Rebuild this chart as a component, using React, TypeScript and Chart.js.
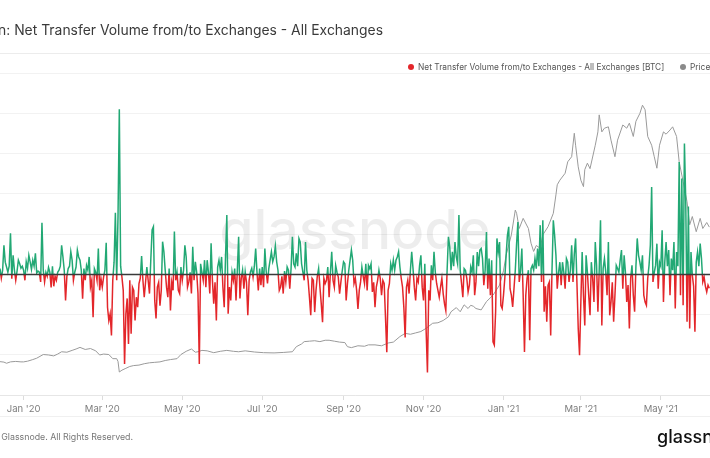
import React, { useEffect, useRef } from "react";
import { Chart, registerables } from "chart.js";

Chart.register(...registerables);

// Days are counted from 2020-01-01 (day 0). First daily value is 2019-12-14.
const FIRST_DAY = -18;
const LAST_DAY_SHOWN = 523.5;

// Net transfer volume from/to exchanges, daily, in thousands of BTC
const netFlowKbtc = [
  1.4, -1, 1, 7.2, 3, 1.8, 0.5, 2, 10.2, -1.1,
  4.7, 1, -1.5, 0.8, 3.5, 2.6, 1.5, 2, 1, -1.5,
  3.1, 1.5, 4.7, 3.1, 1.2, 3.5, 2, 5.2, 0.3, 0.8,
  0.5, -1.9, 12.8, 1, -1.9, 0.5, -0.5, 1.7, 0.5, -3.3,
  2, -3, -0.5, -1.5, 0.5, 1, 2, 7.2, 4.3, 1,
  -6.5, -0.5, 1.4, 2, 5.6, 3.5, -1.5, 0.5, 1.8, 6,
  4.3, 3.5, 1, -6.1, 1.4, -1.5, 2.2, 1, 4.3, -3.2,
  -1.5, -10.7, 1.4, 0.5, -1.5, 6.4, -4, -1, -3.2, -0.7,
  1, 7.8, -8.2, -11.5, -9.8, -15.2, -1.5, 3, 15.3, -1.5,
  14.3, 41, 2, -0.7, -4, -22.3, -9.8, -6, -17.3, -1.5,
  -14.8, -3.2, -4, -11.5, -5.7, -8.2, -2.3, -1, 4.5, -1.5,
  -5.7, -2, 1.8, -1.5, -4.8, 3.5, 11, 11.8, -6.5, -11,
  -3.2, -2, -7.8, -4, 8.1, 5.6, 1, -3.2, -5.7, 1.4,
  -9, -2, -4, 10.6, -1.5, 0.5, -4, -4.8, 1.8, -1.5,
  1, 7.2, 4.3, -3.2, -1.9, 0.5, -4.8, 6.8, -1.5, 3.1,
  0.5, -4.8, -22.3, 2.6, 0.5, -1.5, 3.5, -3.2, 3.5, 0.5,
  -4.8, 7.7, -1.5, -7.3, -2, -11.5, 1.8, 3.5, 1, 4.3,
  -3.2, -8.2, 4.3, 14.7, -9.8, -3.2, -6.5, 0.5, -1.5, 1.4,
  -6.5, 1, 9.3, -6, -1, 1, -3.6, 0.6, -2, -10.2,
  -1.5, 0.6, 1.5, -0.7, 2, 6.4, 0.5, -4, 1.4, -2.7,
  1.8, -3.2, 6.4, 0.8, -2.3, 1.4, 3.5, 5.6, 3.1, 4.3,
  7, 3.1, 1, -4, -3.2, -0.5, -4.8, 0.8, -1.9, 1.8,
  1, -3.6, 1.5, 9.3, 2.6, 1.8, 5.2, 2, 8.9, 8,
  2.6, 0.5, -1.5, 8, 1, -1.5, -5.7, -10.2, -1, -1.5,
  -9.4, -4, -0.5, 1.4, -3.2, -7.3, -11.9, -1, -2.3, -1.5,
  1.8, -5.7, 0.5, 5.6, -1.5, -3.2, 2.2, 0.5, -0.7, -4.8,
  -1.9, 0.8, 3.1, 2.6, -6.5, -2.3, 1, 3.5, 6, 3.5,
  -2.3, -1, -4, -8.6, -4, -1.9, 1.8, -0.5, -2.3, 2.6,
  -4, 2.2, 1.4, 2.6, -4.4, -2, -8.2, -3.2, -1.5, 1,
  -1, -5.2, -1.5, -2.3, -10.7, -19.4, -4, -2.3, 2.6, 1,
  3.5, 1, 3.5, 4.3, 5.6, 1.8, -1, -3.2, -8.2, -15.7,
  -3.2, -1.5, -4.8, 1, 5.6, 1.4, -3.2, -6.5, -1, -1.9,
  2.2, 4.7, -3.2, -6.5, 2.6, -14, -24.4, -4, -6.5, 2.2,
  -1.5, 5.6, 0.5, -2.3, -4, -5.7, -3.2, -1, -4.8, -7.3,
  -9, 1, 9.3, 6.8, 1, 5.6, 2, 8, 4.3, 2.6,
  14.7, 1, -2.3, -5.7, 1.4, 1, -1, -4.4, -2.7, 1.8,
  0.5, 4.7, -5.2, -1.9, 5.5, 2, 6, 6.4, 3.9, -2.7,
  1, 10.5, -3.6, 3.9, -5.2, 3.5, -16.8, -17.6, -9.3, 8.9,
  5.5, 8, -7.7, -8.5, -5.2, -1, 4.7, 9.7, 11.8, -3.6,
  -5.2, -8.1, -3.6, 1, 7.6, 13, -1.9, 1, 6.4, -5.2,
  -19.3, -5.2, -1, 1, -16.4, 1.4, 2.2, 1, 3.9, 1.4,
  6.4, 2, 12.2, -1.9, 13.4, -9.3, -3, -11.8, -2.7, -1.9,
  -15.2, 1, 13.4, 9.7, 4.7, -3.6, 0.5, 3, -2.7, 3,
  0.5, -3.6, 3.9, 3, -1.9, 1, 7.2, -1.9, 5, 8.9,
  -2, -13.5, -20.1, -6.9, 5.5, -5.2, -12.7, 4.7, 0.5, -5.2,
  -10.2, 3, -1, -6.9, 8, 2.2, -9.3, 1, 13.4, -12.7,
  1.4, 3.9, 0.5, -5.2, 8, -10.2, -6.9, -2, -11.8, -5.2,
  2.2, 1.4, 0.5, 3.5, 6, -3.6, 4.7, 0.5, -6.9, -2.7,
  -13.5, -1, 2.2, -5.2, -9.3, 2, 8.9, 4.7, 3, 1,
  4.7, -5.2, -6.9, -7.7, -1, 2.2, 7.2, 21.7, -1.9, 0.5,
  2.2, 7.6, -3.6, 3, 2, 10.9, -6.9, 3, 8, 2,
  6, -5.2, 3.9, 1, 8, -8.5, 5.5, 2, 27.9, -5.2,
  23.8, -7.7, 32.5, 18.1, -11.8, 16.8, -13.5, 5.5, -0.2, -3,
  -14.3, 3, 5.5, 2, 7.6, 3.9, -1.9, -0.7, -3, -4.4,
  -2.7, -3.5,
];

// BTC price (USD), sampled days
const priceDays = [
  -18, -15, -13, -10, -6, -2, 0, 3, 7, 10, 15, 19, 23, 26, 29, 33, 37, 40, 43, 47,
  51, 55, 58, 61, 65, 68, 71, 72, 73, 75, 78, 81, 84, 88, 92, 96, 100, 104, 108, 112,
  117, 120, 124, 128, 131, 133, 136, 140, 145, 150, 155, 160, 164, 169, 176, 183, 191, 198, 205, 208,
  212, 214, 218, 222, 226, 230, 233, 237, 241, 245, 247, 250, 255, 260, 263, 268, 273, 278, 282, 287,
  291, 295, 299, 303, 307, 312, 316, 320, 324, 326, 330, 333, 336, 339, 341, 343, 345, 349, 353, 358,
  363, 366, 368, 372, 375, 376, 378, 381, 385, 387, 389, 391, 394, 396, 400, 404, 406, 407, 409, 413,
  415, 418, 420, 421, 423, 425, 427, 428, 430, 432, 436, 438, 439, 441, 443, 446, 448, 451, 453, 457,
  460, 462, 465, 467, 470, 472, 474, 476, 479, 481, 483, 485, 488, 490, 493, 495, 498, 500, 503, 506,
  508, 510, 513, 516, 518, 521, 523,
];
const priceUsd = [
  7250, 7150, 6900, 7200, 7300, 7200, 7200, 7350, 7700, 8000, 8800, 8700, 8500, 8900, 9400, 9300, 9700, 10000, 10350, 9900,
  10100, 9600, 8700, 8900, 8800, 7900, 7900, 7300, 5000, 5400, 5800, 6200, 6400, 6500, 6800, 7000, 7100, 7200, 7500, 7700,
  7900, 8800, 9500, 10000, 9300, 9400, 9700, 9600, 9200, 9500, 9700, 9500, 9400, 9600, 9350, 9200, 9150, 9250, 9400, 10500,
  11100, 11600, 11700, 11800, 11600, 11900, 11900, 11700, 11500, 11400, 10500, 10300, 10700, 10600, 10900, 10900, 10700, 11300, 11500, 12700,
  13400, 13200, 13500, 13800, 14500, 15600, 15700, 16200, 17000, 18100, 19000, 18100, 19600, 18800, 19500, 19300, 18800, 18500, 20300, 21700,
  23900, 27000, 30400, 34800, 40200, 39500, 36200, 38400, 36200, 33000, 31200, 32500, 31900, 34800, 36600, 39500, 43500, 45700, 46700, 48200,
  50700, 51800, 56900, 54300, 49600, 46700, 45300, 49000, 50400, 49200, 54300, 57200, 60900, 57200, 58000, 58300, 55400, 51800, 55400, 58700,
  58000, 59100, 56200, 59500, 61200, 63000, 62000, 56200, 54300, 51800, 49300, 54300, 57200, 56700, 57600, 58300, 56200, 50700, 46400, 42000,
  37000, 38800, 35500, 38400, 36200, 37500, 36500,
];

// x-axis ticks (first of each month shown)
const tickDays = [0, 60, 121, 182, 244, 305, 366, 425, 486];
const tickLabels = ["Jan '20", "Mar '20", "May '20", "Jul '20", "Sep '20", "Nov '20", "Jan '21", "Mar '21", "May '21"];

const FLOW_MIN = -30;
const FLOW_MAX = 50;
const FLOW_STEP = 10;
const PRICE_MIN = 0;
const PRICE_MAX = 70000;

const GREEN = "#22a874";
const RED = "#e3262a";
const FONT = "Inter, 'Noto Sans', sans-serif";

export default function App() {
  const canvasRef = useRef<HTMLCanvasElement | null>(null);

  useEffect(() => {
    const canvas = canvasRef.current;
    if (!canvas) return;

    const flowPoints = netFlowKbtc.map((v, i) => ({ x: FIRST_DAY + i, y: v }));
    const pricePoints = priceDays.map((d, i) => ({ x: d, y: priceUsd[i] }));

    const watermark = {
      id: "watermark",
      beforeDatasetsDraw(chart: any) {
        const { ctx, chartArea } = chart;
        ctx.save();
        ctx.font = `500 55px ${FONT}`;
        ctx.fillStyle = "rgba(0,0,0,0.07)";
        ctx.textAlign = "center";
        ctx.textBaseline = "middle";
        ctx.fillText("glassnode", (chartArea.left + chartArea.right) / 2, (chartArea.top + chartArea.bottom) / 2 - 2);
        ctx.restore();
      },
    };

    const zeroLine = {
      id: "zeroLine",
      afterDatasetsDraw(chart: any) {
        const { ctx, chartArea, scales } = chart;
        const y = Math.round(scales.y.getPixelForValue(0)) + 0.5;
        ctx.save();
        ctx.strokeStyle = "#3a3a3a";
        ctx.lineWidth = 1.4;
        ctx.beginPath();
        ctx.moveTo(chartArea.left, y);
        ctx.lineTo(chartArea.right, y);
        ctx.stroke();
        ctx.restore();
      },
    };

    const chart = new Chart(canvas, {
      type: "line",
      data: {
        datasets: [
          {
            label: "Net Transfer Volume from/to Exchanges - All Exchanges [BTC]",
            data: flowPoints,
            yAxisID: "y",
            borderWidth: 1.5,
            pointRadius: 0,
            tension: 0,
            order: 1,
            borderColor: (context: any) => {
              const { chart } = context;
              const { ctx, chartArea, scales } = chart;
              if (!chartArea) return GREEN;
              const zero = scales.y.getPixelForValue(0);
              const t = Math.min(1, Math.max(0, (zero - chartArea.top) / (chartArea.bottom - chartArea.top)));
              const g = ctx.createLinearGradient(0, chartArea.top, 0, chartArea.bottom);
              g.addColorStop(0, GREEN);
              g.addColorStop(t, GREEN);
              g.addColorStop(t, RED);
              g.addColorStop(1, RED);
              return g;
            },
          },
          {
            label: "Price (USD)",
            data: pricePoints,
            yAxisID: "y1",
            borderColor: "#9a9a9a",
            borderWidth: 1,
            pointRadius: 0,
            tension: 0,
            order: 2,
          },
        ],
      },
      options: {
        animation: false,
        responsive: false,
        maintainAspectRatio: false,
        layout: { padding: { top: 73, bottom: 43, left: 0, right: 0 } },
        plugins: {
          legend: { display: false },
          tooltip: { enabled: false },
        },
        scales: {
          x: {
            type: "linear",
            min: FIRST_DAY,
            max: LAST_DAY_SHOWN,
            afterBuildTicks: (scale: any) => {
              scale.ticks = tickDays.map((v) => ({ value: v }));
            },
            afterFit: (scale: any) => {
              scale.height = 20;
            },
            ticks: {
              autoSkip: false,
              maxRotation: 0,
              minRotation: 0,
              padding: 3,
              color: "#7d7d7d",
              font: { family: FONT, size: 9.5 },
              callback: (_v: any, i: number) => tickLabels[i],
            },
            grid: { drawOnChartArea: false, drawTicks: true, tickLength: 5, color: "#dcdcdc" },
            border: { display: true, color: "#e6e6e6" },
          },
          y: {
            min: FLOW_MIN,
            max: FLOW_MAX,
            ticks: { display: false, stepSize: FLOW_STEP },
            grid: { color: "#f2f2f2", drawTicks: false },
            border: { display: false },
            afterFit: (scale: any) => {
              scale.width = 0;
            },
          },
          y1: {
            display: false,
            min: PRICE_MIN,
            max: PRICE_MAX,
          },
        },
      },
      plugins: [watermark, zeroLine],
    } as any);

    return () => chart.destroy();
  }, []);

  const abs: React.CSSProperties = { position: "absolute", whiteSpace: "nowrap", fontFamily: FONT };

  return (
    <div style={{ position: "fixed", left: 0, top: 0, width: 710, height: 458, overflow: "hidden", background: "#fff" }}>
      <canvas ref={canvasRef} width={710} height={458} style={{ position: "absolute", left: 0, top: 0, width: 710, height: 458 }} />
      <div style={{ ...abs, right: 327, top: 20, fontSize: 13.9, lineHeight: "20px", color: "#3a3a3a" }}>
        Bitcoin: Net Transfer Volume from/to Exchanges - All Exchanges
      </div>
      <div style={{ position: "absolute", left: 0, top: 53, width: 710, height: 1, background: "#ececec" }} />
      <div style={{ ...abs, left: 408, top: 61, fontSize: 8.35, lineHeight: "12px", color: "#555", display: "flex", alignItems: "center" }}>
        <span style={{ display: "inline-block", width: 6, height: 6, borderRadius: "50%", background: RED, marginRight: 4 }} />
        Net Transfer Volume from/to Exchanges - All Exchanges [BTC]
      </div>
      <div style={{ ...abs, left: 680, top: 61, fontSize: 8.35, lineHeight: "12px", color: "#555", display: "flex", alignItems: "center" }}>
        <span style={{ display: "inline-block", width: 6, height: 6, borderRadius: "50%", background: "#8a8a8a", marginRight: 4 }} />
        Price (USD)
      </div>
      <div style={{ position: "absolute", left: 0, top: 416, width: 710, height: 1, background: "#f0f0f0" }} />
      <div style={{ ...abs, right: 577, top: 431, fontSize: 8.8, lineHeight: "12px", color: "#777" }}>
        © 2021 Glassnode. All Rights Reserved.
      </div>
      <div style={{ ...abs, left: 657, top: 426, fontSize: 18, lineHeight: "22px", color: "#111", fontWeight: 500 }}>
        glassnode
      </div>
    </div>
  );
}
